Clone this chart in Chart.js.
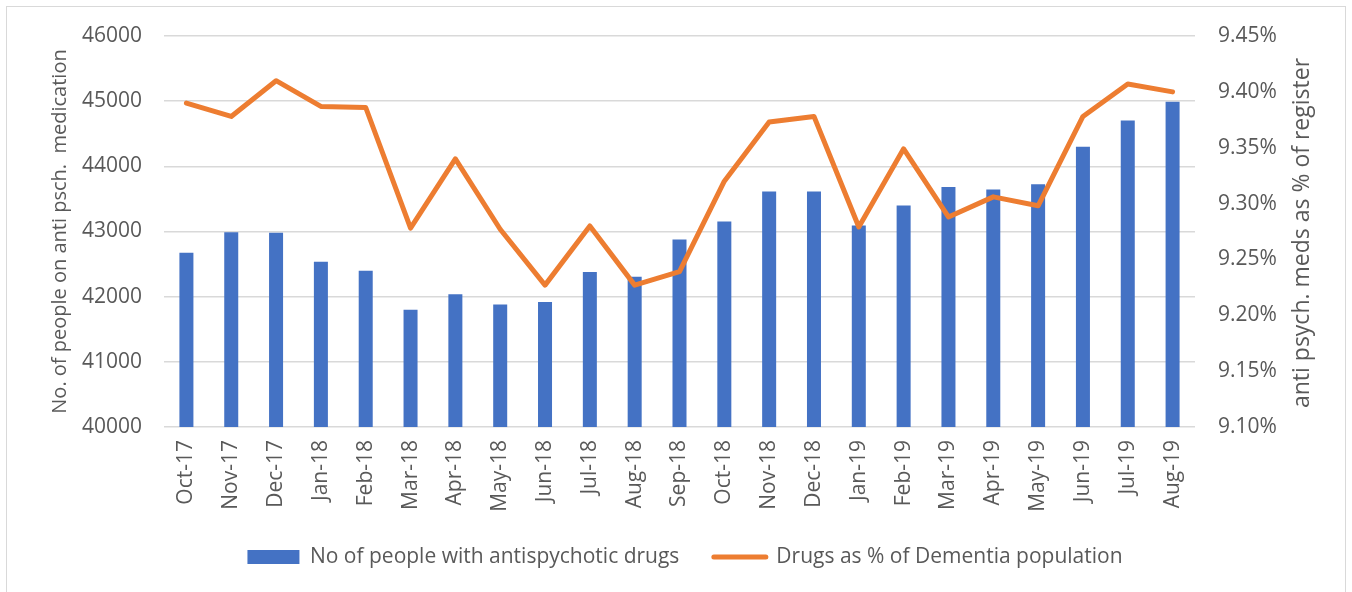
<!DOCTYPE html>
<html>
<head>
<meta charset="utf-8">
<script src="https://cdn.jsdelivr.net/npm/chart.js@4/dist/chart.umd.min.js"></script>
<style>
  html, body { margin: 0; padding: 0; background: #ffffff; }
  #wrap { position: relative; width: 1352px; height: 592px; overflow: hidden; }
  #frame { position: absolute; left: 6px; top: 6px; width: 1340px; height: 620px;
           border: 1px solid #d9d9d9; box-sizing: border-box; pointer-events: none; }
  canvas { position: absolute; left: 0; top: 0; }
</style>
</head>
<body>
<div id="wrap">
  <canvas id="chart" width="1352" height="592"></canvas>
  <div id="frame"></div>
</div>
<script>
// Monthly categories
const months = ['Oct-17','Nov-17','Dec-17','Jan-18','Feb-18','Mar-18','Apr-18','May-18','Jun-18',
  'Jul-18','Aug-18','Sep-18','Oct-18','Nov-18','Dec-18','Jan-19','Feb-19','Mar-19','Apr-19',
  'May-19','Jun-19','Jul-19','Aug-19'];

// Number of people prescribed antipsychotic drugs
const peopleOnDrugs = [42674, 42990, 42980, 42536, 42398, 41801, 42036, 41878, 41918,
  42378, 42306, 42878, 43153, 43612, 43612, 43092, 43398, 43684, 43643,
  43724, 44301, 44704, 44990];

// Same group as a percentage of the dementia register
const pctOfDementia = [9.390, 9.378, 9.410, 9.387, 9.386, 9.278, 9.340, 9.277, 9.227,
  9.280, 9.227, 9.239, 9.320, 9.373, 9.378, 9.279, 9.349, 9.288, 9.306,
  9.298, 9.378, 9.407, 9.400];

// Axis ranges and tick spacing
const leftAxis = { min: 40000, max: 46000, step: 1000 };
const rightAxis = { min: 9.10, max: 9.45, step: 0.05 };

const seriesNames = ['No of people with antispychotic drugs', 'Drugs as % of Dementia population'];
const leftTitle = 'No. of people on anti psch.  medication';
const rightTitle = 'anti psych. meds as % of register';

const FONT = "'Open Sans', sans-serif";
const TEXT = '#595959';
const BLUE = '#4472C4';
const ORANGE = '#ED7D31';

// Right-hand axis title, drawn reading bottom-to-top
const rightTitlePlugin = {
  id: 'rightTitle',
  afterDraw(chart) {
    const ctx = chart.ctx;
    ctx.save();
    ctx.translate(1302, 233);
    ctx.rotate(-Math.PI / 2);
    ctx.font = "23px " + FONT;
    ctx.fillStyle = TEXT;
    ctx.textAlign = 'center';
    ctx.textBaseline = 'middle';
    ctx.fillText(rightTitle, 0, 0);
    ctx.restore();
  }
};

new Chart(document.getElementById('chart'), {
  data: {
    labels: months,
    datasets: [
      {
        type: 'bar',
        label: seriesNames[0],
        data: peopleOnDrugs,
        yAxisID: 'yLeft',
        backgroundColor: BLUE,
        borderWidth: 0,
        barPercentage: 0.3125,
        categoryPercentage: 1.0,
        order: 1
      },
      {
        type: 'line',
        label: seriesNames[1],
        data: pctOfDementia,
        yAxisID: 'yRight',
        borderColor: ORANGE,
        backgroundColor: ORANGE,
        borderWidth: 5,
        borderCapStyle: 'round',
        borderJoinStyle: 'round',
        pointRadius: 0,
        pointHoverRadius: 0,
        tension: 0,
        fill: false,
        order: 0
      }
    ]
  },
  options: {
    responsive: false,
    animation: false,
    layout: { padding: { left: 18, right: 0, top: 36, bottom: 14.5 } },
    plugins: {
      tooltip: { enabled: false },
      legend: {
        position: 'bottom',
        labels: {
          usePointStyle: true,
          pointStyleWidth: 52,
          boxHeight: 14,
          padding: 34.5,
          color: TEXT,
          font: { family: FONT, size: 21 },
          generateLabels(chart) {
            return chart.data.datasets.map((ds, i) => ({
              text: ds.label,
              datasetIndex: i,
              fillStyle: ds.type === 'bar' ? BLUE : ORANGE,
              strokeStyle: ds.type === 'bar' ? BLUE : ORANGE,
              lineWidth: ds.type === 'bar' ? 0 : 5,
              lineCap: 'round',
              pointStyle: ds.type === 'bar' ? 'rect' : 'line',
              fontColor: TEXT,
              hidden: false
            }));
          }
        }
      }
    },
    scales: {
      x: {
        type: 'category',
        offset: true,
        grid: { display: false, drawTicks: false },
        border: { display: false },
        ticks: {
          autoSkip: false,
          minRotation: 90,
          maxRotation: 90,
          padding: 13,
          color: TEXT,
          font: { family: FONT, size: 21 }
        },
        afterFit(scale) { scale.height = 85; }
      },
      yLeft: {
        type: 'linear',
        position: 'left',
        min: leftAxis.min,
        max: leftAxis.max,
        grid: { color: '#d9d9d9', lineWidth: 1.5, drawTicks: false },
        border: { display: false },
        ticks: {
          stepSize: leftAxis.step,
          padding: 22,
          color: TEXT,
          font: { family: FONT, size: 21 },
          callback: v => String(v)
        },
        title: {
          display: true,
          text: leftTitle,
          color: TEXT,
          font: { family: FONT, size: 20 },
          padding: { top: 30, bottom: 0 }
        },
        afterFit(scale) { scale.width = 146; }
      },
      yRight: {
        type: 'linear',
        position: 'right',
        min: rightAxis.min,
        max: rightAxis.max,
        grid: { display: false, drawTicks: false },
        border: { display: false },
        ticks: {
          stepSize: rightAxis.step,
          padding: 23,
          color: TEXT,
          font: { family: FONT, size: 21 },
          callback: v => v.toFixed(2) + '%'
        },
        afterFit(scale) { scale.width = 157; }
      }
    }
  },
  plugins: [rightTitlePlugin]
});
</script>
</body>
</html>
